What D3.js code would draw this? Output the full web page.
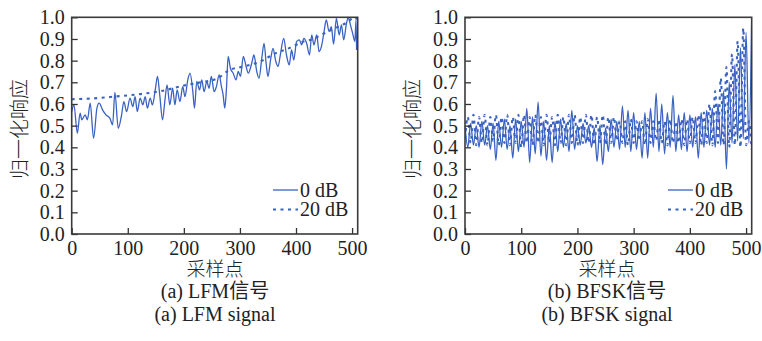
<!DOCTYPE html>
<html><head><meta charset="utf-8">
<script src="https://cdn.jsdelivr.net/npm/d3@7/dist/d3.min.js"></script>
<style>
html,body{margin:0;padding:0;background:#fff;}
svg{display:block;}
</style></head>
<body>
<svg id="c" width="762" height="341"></svg>
<script>
// ---------- DATA ----------
const yTicks = [0,0.1,0.2,0.3,0.4,0.5,0.6,0.7,0.8,0.9,1.0];
const xTicks = [0,100,200,300,400,500];
const legendLabels = ["0 dB","20 dB"];
const yLabel = "归一化响应";
const xLabel = "采样点";
const captionsA = ["(a) LFM信号","(a) LFM signal"];
const captionsB = ["(b) BFSK信号","(b) BFSK signal"];

// LFM, 0 dB (sample index, normalised response)
const lfmIdx0 = [0,4,10,15,18,24,28,33,39,45,49,55,61,68,73,77,83,89,93,98,104,109,113,117,122,127,131,135,140,144,149,153,157,162,166,170,175,180,184,188,193,198,202,207,211,216,219,223,228,232,236,241,245,249,254,258,263,267,270,273,276,279,283,288,293,297,301,306,311,315,321,325,330,334,339,343,347,350,355,359,364,368,372,378,383,388,392,396,401,406,410,414,419,424,428,432,437,441,446,450,454,459,463,467,472,477,481,485,490,493,497,501,505,507,508];
const lfmVal0 = [0.565,0.596,0.465,0.558,0.527,0.550,0.527,0.604,0.442,0.581,0.604,0.573,0.550,0.535,0.504,0.654,0.488,0.550,0.611,0.565,0.627,0.588,0.634,0.565,0.627,0.596,0.634,0.581,0.627,0.596,0.665,0.727,0.642,0.527,0.611,0.688,0.596,0.673,0.596,0.665,0.611,0.680,0.634,0.711,0.742,0.657,0.581,0.704,0.665,0.711,0.657,0.704,0.673,0.727,0.657,0.680,0.734,0.680,0.642,0.581,0.673,0.819,0.765,0.742,0.711,0.750,0.727,0.819,0.773,0.742,0.788,0.826,0.750,0.719,0.811,0.880,0.780,0.727,0.811,0.857,0.796,0.773,0.826,0.903,0.826,0.780,0.849,0.803,0.888,0.896,0.873,0.903,0.880,0.826,0.919,0.873,0.919,0.842,0.873,0.934,0.988,0.934,0.957,0.876,0.995,0.919,0.965,0.896,0.972,1.0,0.965,0.926,0.888,0.988,0.849];
// LFM, 20 dB
const lfmIdx20 = [0,40,80,120,160,200,230,260,280,310,340,360,390,410,430,450,470,490,505,509];
const lfmVal20 = [0.622,0.626,0.635,0.645,0.660,0.685,0.700,0.718,0.755,0.775,0.800,0.830,0.860,0.885,0.900,0.925,0.950,0.975,1.0,0.99];

// BFSK: values every 5 samples (0,5,...,510)
const bfskStep = 5;
const bfskVal0 = [0.50,0.40,0.51,0.41,0.50,0.40,0.52,0.41,0.50,0.39,0.51,0.34,0.52,0.40,0.53,0.39,0.50,0.35,0.53,0.38,
0.52,0.40,0.58,0.33,0.54,0.37,0.61,0.36,0.52,0.34,0.50,0.33,0.52,0.38,0.53,0.40,0.51,0.38,0.57,0.39,
0.50,0.41,0.51,0.42,0.50,0.40,0.49,0.335,0.50,0.32,0.49,0.38,0.53,0.40,0.52,0.39,0.59,0.40,0.57,0.38,
0.56,0.39,0.52,0.35,0.56,0.35,0.58,0.40,0.65,0.38,0.60,0.37,0.56,0.40,0.64,0.38,0.55,0.39,0.56,0.38,
0.55,0.40,0.54,0.35,0.56,0.40,0.57,0.41,0.58,0.40,0.60,0.41,0.66,0.30,0.70,0.42,0.78,0.43,0.86,0.44,
0.93,0.42,1.0];
const bfskVal20 = [0.44,0.54,0.42,0.55,0.41,0.54,0.42,0.55,0.41,0.54,0.43,0.55,0.41,0.54,0.42,0.55,0.41,0.54,0.42,0.55,
0.40,0.55,0.42,0.54,0.41,0.55,0.42,0.54,0.41,0.55,0.42,0.54,0.41,0.55,0.42,0.54,0.41,0.55,0.42,0.55,
0.41,0.54,0.42,0.55,0.42,0.55,0.41,0.54,0.42,0.55,0.41,0.54,0.42,0.54,0.43,0.52,0.42,0.52,0.41,0.53,
0.42,0.52,0.43,0.52,0.41,0.53,0.42,0.52,0.43,0.53,0.42,0.52,0.41,0.53,0.42,0.52,0.42,0.53,0.41,0.53,
0.42,0.54,0.42,0.55,0.41,0.56,0.42,0.60,0.41,0.66,0.42,0.72,0.41,0.77,0.40,0.83,0.41,0.89,0.40,0.95,
0.41,0.52,0.39];

// ---------- DRAW ----------
const svg = d3.select("#c");
const BLUE = "#3a62c2";
const SERIF = "'Liberation Serif','Times New Roman',serif";
const CJK = "'Noto Sans CJK SC',sans-serif";
const MIX = "'Liberation Serif','Noto Sans CJK SC',serif";

function panel(o){
  const x = d3.scaleLinear().domain([0,510]).range([o.x0,o.x1]);
  const y = d3.scaleLinear().domain([0,1]).range([234,17.3]);
  const g = svg.append("g");
  const clipId = "clip"+o.id;
  svg.append("clipPath").attr("id",clipId).append("rect")
    .attr("x",o.x0).attr("y",15).attr("width",o.x1-o.x0).attr("height",220);
  const line = d3.line().x(d=>x(d[0])).y(d=>y(d[1])).curve(d3.curveMonotoneX);
  const dg = g.append("g").attr("clip-path",`url(#${clipId})`);
  dg.append("path").datum(o.s20).attr("d",line).attr("fill","none")
    .attr("stroke",BLUE).attr("stroke-width",2.1).attr("stroke-dasharray","3,4.5");
  dg.append("path").datum(o.s0).attr("d",line).attr("fill","none")
    .attr("stroke",BLUE).attr("stroke-width",1.3);

  // axes
  const ay = d3.axisLeft(y).tickValues(yTicks).tickSize(-6).tickPadding(7).tickFormat(d3.format(".1f"));
  const ax = d3.axisBottom(x).tickValues(xTicks).tickSize(-6).tickPadding(7).tickFormat(d3.format("d"));
  const gy = g.append("g").attr("transform",`translate(${o.x0},0)`).call(ay);
  const gx = g.append("g").attr("transform",`translate(0,234)`).call(ax);
  [gy,gx].forEach(a=>{
    a.select(".domain").remove();
    a.selectAll(".tick line").attr("stroke","#333").attr("stroke-width",1.3);
    a.selectAll("text").attr("font-family",SERIF).attr("font-size",20).attr("fill","#222");
  });
  // frame
  g.append("rect").attr("x",o.x0).attr("y",17.3).attr("width",o.x1-o.x0).attr("height",234-17.3)
    .attr("fill","none").attr("stroke","#3a3a3a").attr("stroke-width",1.6);

  // legend
  const lx = o.lx;
  g.append("line").attr("x1",lx).attr("x2",lx+25).attr("y1",190).attr("y2",190)
    .attr("stroke",BLUE).attr("stroke-width",1.3);
  g.append("line").attr("x1",lx).attr("x2",lx+25).attr("y1",209.5).attr("y2",209.5)
    .attr("stroke",BLUE).attr("stroke-width",2.1).attr("stroke-dasharray","3,4.5");
  g.append("text").attr("x",lx+27).attr("y",196.5).text(legendLabels[0])
    .attr("font-family",SERIF).attr("font-size",20).attr("fill","#222");
  g.append("text").attr("x",lx+27).attr("y",216).text(legendLabels[1])
    .attr("font-family",SERIF).attr("font-size",20).attr("fill","#222");

  // labels
  g.append("text").attr("transform",`translate(${o.ylx},129) rotate(-90)`)
    .attr("text-anchor","middle").attr("dominant-baseline","central")
    .attr("font-family",CJK).attr("font-size",20).attr("font-weight",300).attr("fill","#222").text(yLabel);
  g.append("text").attr("x",o.cx).attr("y",276).attr("text-anchor","middle")
    .attr("font-family",CJK).attr("font-size",19).attr("font-weight",300).attr("fill","#222").text(xLabel);
  g.append("text").attr("x",o.cx).attr("y",298).attr("text-anchor","middle")
    .attr("font-family",MIX).attr("font-size",20).attr("fill","#222").text(o.cap[0]);
  g.append("text").attr("x",o.cx).attr("y",321).attr("text-anchor","middle")
    .attr("font-family",SERIF).attr("font-size",20).attr("fill","#222").text(o.cap[1]);
}

const lfm0 = lfmIdx0.map((d,i)=>[d,lfmVal0[i]]);
const lfm20 = lfmIdx20.map((d,i)=>[d,lfmVal20[i]]);
const bf0 = bfskVal0.map((v,i)=>[i*bfskStep,v]);
const bf20 = bfskVal20.map((v,i)=>[i*bfskStep,v]);

panel({id:"a",x0:71.7,x1:357.7,s0:lfm0,s20:lfm20,lx:273,ylx:18,cx:215,cap:captionsA});
panel({id:"b",x0:465,x1:751.7,s0:bf0,s20:bf20,lx:668,ylx:411,cx:607,cap:captionsB});
</script>
</body></html>
